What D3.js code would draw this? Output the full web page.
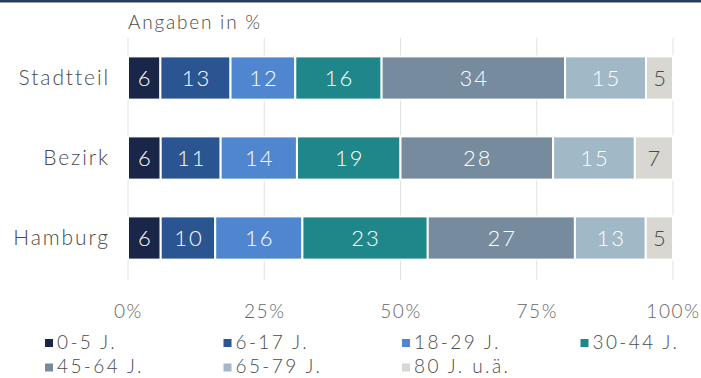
<!DOCTYPE html>
<html>
<head>
<meta charset="utf-8">
<script src="https://cdn.jsdelivr.net/npm/d3@7"></script>
<style>
  html, body { margin: 0; padding: 0; background: #fff; }
  svg { display: block; font-family: Lato, "Open Sans", sans-serif; font-weight: 300; }
  svg text { font-family: Lato, "Open Sans", sans-serif; font-weight: 300; }
</style>
</head>
<body>
<svg id="chart" width="701" height="378"></svg>
<script>
// Altersgruppen je Gebiet, Angaben in %
const regions = ["Stadtteil", "Bezirk", "Hamburg"];
const ageGroups = ["0-5 J.", "6-17 J.", "18-29 J.", "30-44 J.", "45-64 J.", "65-79 J.", "80 J. u.ä."];
const stadtteil = [6, 13, 12, 16, 34, 15, 5];
const bezirk    = [6, 11, 14, 19, 28, 15, 7];
const hamburg   = [6, 10, 16, 23, 27, 13, 5];
const tickValues = [0, 0.25, 0.5, 0.75, 1];
const tickLabels = ["0%", "25%", "50%", "75%", "100%"];
const colors = ["#1a2647", "#2b5591", "#4f86cf", "#1f8789", "#768b9e", "#a1b8c6", "#d9d7d1"];

const seriesByRegion = [stadtteil, bezirk, hamburg];
const rows = regions.map((r, i) => {
  const o = { region: r };
  ageGroups.forEach((g, j) => { o[g] = seriesByRegion[i][j]; });
  return o;
});

const svg = d3.select("#chart");
const margin = { left: 128, right: 28 };
const W = 701;

// header rule
svg.append("rect").attr("x", 0).attr("y", 0).attr("width", W).attr("height", 2.5)
  .attr("fill", "#2a3d5e");

const x = d3.scaleLinear().domain([0, 1]).range([margin.left, W - margin.right]);
const y = d3.scaleBand().domain(regions).range([38, 278]).paddingInner(0.46).paddingOuter(0.23);

// gridlines
svg.append("g").selectAll("line").data(tickValues).join("line")
  .attr("x1", d => x(d)).attr("x2", d => x(d))
  .attr("y1", 38).attr("y2", 280)
  .attr("stroke", "#e2e2e2").attr("stroke-width", 1);

// subtitle
svg.append("text").attr("x", margin.left).attr("y", 29)
  .attr("fill", "#4a4a4a").attr("font-size", 19).attr("letter-spacing", 1.8)
  .text("Angaben in %");

const stack = d3.stack().keys(ageGroups).offset(d3.stackOffsetExpand);
const layers = stack(rows);

const g = svg.append("g");
layers.forEach((layer, k) => {
  const lg = g.append("g");
  lg.selectAll("rect").data(layer).join("rect")
    .attr("x", d => x(d[0]))
    .attr("y", d => y(d.data.region))
    .attr("width", d => x(d[1]) - x(d[0]))
    .attr("height", y.bandwidth())
    .attr("fill", colors[k])
    .attr("stroke", "#fff").attr("stroke-width", 2);
  lg.selectAll("text").data(layer).join("text")
    .attr("x", d => (x(d[0]) + x(d[1])) / 2 + 1)
    .attr("y", d => y(d.data.region) + y.bandwidth() / 2)
    .attr("dy", "0.36em")
    .attr("text-anchor", "middle")
    .attr("font-size", 22)
    .attr("letter-spacing", 2)
    .attr("fill", k === ageGroups.length - 1 ? "#4a4a4a" : "#fff")
    .text(d => d.data[layer.key]);
});

// category axis
const yAxis = svg.append("g").attr("transform", `translate(${margin.left - 4},0)`)
  .call(d3.axisLeft(y).tickSize(0).tickPadding(14));
yAxis.attr("font-family", null).attr("font-size", null);
yAxis.select(".domain").remove();
yAxis.selectAll("text").attr("font-size", 21).attr("fill", "#4a4a4a")
  .attr("letter-spacing", 1.9);

// value axis
const xAxis = svg.append("g").attr("transform", "translate(0,300)")
  .call(d3.axisBottom(x).tickValues(tickValues).tickFormat((d, i) => tickLabels[i]).tickSize(0).tickPadding(4));
xAxis.attr("font-family", null).attr("font-size", null);
xAxis.select(".domain").remove();
xAxis.selectAll("text").attr("font-size", 19).attr("fill", "#666")
  .attr("letter-spacing", 1.6);

// legend
const legend = svg.append("g");
ageGroups.forEach((name, i) => {
  const col = i % 4, row = Math.floor(i / 4);
  const lx = 45 + col * 178.5, ly = 342 + row * 24.5;
  legend.append("rect").attr("x", lx).attr("y", ly - 3).attr("width", 8).attr("height", 8)
    .attr("fill", colors[i]);
  legend.append("text").attr("x", lx + 12).attr("y", ly).attr("dy", "0.36em")
    .attr("font-size", 19).attr("letter-spacing", 2.4).attr("fill", "#4a4a4a").text(name);
});
</script>
</body>
</html>
